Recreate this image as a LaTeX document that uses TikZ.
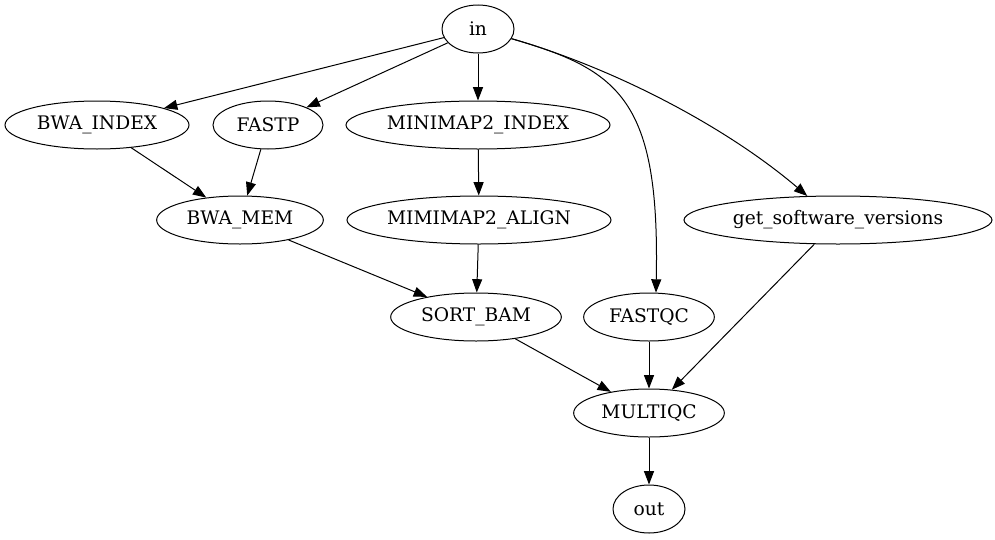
\documentclass[tikz,border=0pt]{standalone}
\usepackage{fontspec}
\setmainfont{DejaVu Serif}
\usetikzlibrary{shapes.geometric,arrows.meta}
\begin{document}
\begin{tikzpicture}[x=0.75pt,y=-0.75pt,
  nd/.style={draw,ellipse,inner sep=0pt,minimum height=36pt,font=\fontsize{14}{16}\selectfont,line width=0.75pt},
  edge/.style={draw,line width=0.75pt,-{Triangle[length=10pt,width=7.5pt]}}]
\useasboundingbox (0,0) rectangle (995,539);
\node[nd,minimum width=54pt]  (in)   at (478,29)  {in};
\node[nd,minimum width=138pt] (bwai) at (97,125)  {BWA\_INDEX};
\node[nd,minimum width=82.5pt](fastp) at (268,125) {FASTP};
\node[nd,minimum width=198pt] (mmi)  at (478,125) {MINIMAP2\_INDEX};
\node[nd,minimum width=125pt] (bwam) at (240,220) {BWA\_MEM};
\node[nd,minimum width=198pt] (mma)  at (479,220) {MIMIMAP2\_ALIGN};
\node[nd,minimum width=231pt] (gsv)  at (838,220) {get\_software\_versions};
\node[nd,minimum width=128pt] (sort) at (476,317) {SORT\_BAM};
\node[nd,minimum width=98pt]  (fqc)  at (649,317) {FASTQC};
\node[nd,minimum width=113pt] (mqc)  at (649,413) {MULTIQC};
\node[nd,minimum width=54pt]  (out)  at (649,509) {out};
\draw[edge] (in) -- (bwai);
\draw[edge] (in) -- (fastp);
\draw[edge] (in) -- (mmi);
\draw[edge] (in) .. controls (620,70) and (660,100) .. (fqc.74);
\draw[edge] (in) .. controls (620,70) and (730,130) .. (gsv.142);
\draw[edge] (bwai) -- (bwam);
\draw[edge] (fastp) -- (bwam);
\draw[edge] (mmi) -- (mma);
\draw[edge] (bwam) -- (sort);
\draw[edge] (mma) -- (sort);
\draw[edge] (sort) -- (mqc);
\draw[edge] (fqc) -- (mqc);
\draw[edge] (gsv) -- (mqc);
\draw[edge] (mqc) -- (out);
\end{tikzpicture}
\end{document}
